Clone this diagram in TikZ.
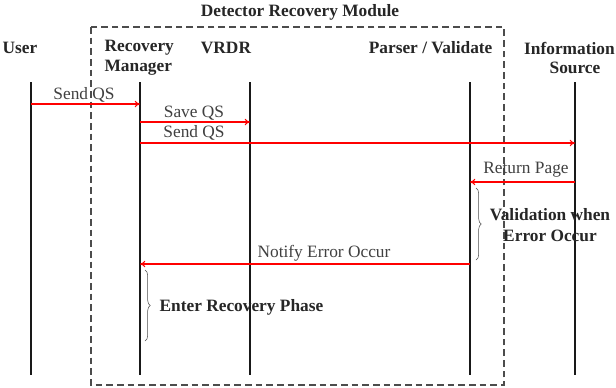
\documentclass[tikz,border=0pt]{standalone}
\usepackage{fontspec}
\setmainfont{Liberation Serif}
\usetikzlibrary{decorations.pathreplacing,arrows.meta}

\tikzset{
  actor/.style={font=\bfseries\fontsize{13}{16}\selectfont,text=black!85,inner sep=1pt},
  lifeline/.style={line width=1.6pt,black!90},
  msg/.style={red,line width=0.8pt,-{To[length=4pt,width=5pt]}},
  msglabel/.style={font=\fontsize{13}{15}\selectfont,text=black!75,inner sep=1pt},
  note/.style={font=\bfseries\fontsize{13}{16}\selectfont,text=black!85,align=center,inner sep=1pt},
  notebrace/.style={decorate,decoration={brace,amplitude=4pt},black!70,thin},
}

\begin{document}
\begin{tikzpicture}[x=0.75pt,y=-0.75pt]
  \useasboundingbox (0,0) rectangle (616,387);

  %% module frame
  \draw[black!70,dashed,line width=1.1pt,dash pattern=on 5pt off 3pt] (91,27) rectangle (504,385);
  \node (TITLE) at (300,12) [actor] {Detector Recovery Module};

  %% actors
  \node (USERL) at (20,48) [actor] {User};
  \node (RMLA) at (103,48) [actor,anchor=west] {Recovery};
  \node (RMLB) at (103,68) [actor,anchor=west] {Manager};
  \node (VRDRL) at (226,48) [actor] {VRDR};
  \node (PARL) at (494,48) [actor,anchor=east] {Parser / Validate};
  \node (INFLA) at (615,48) [actor,anchor=east,inner sep=0pt] {Information};
  \node (INFLB) at (575,68) [actor] {Source};

  %% lifelines
  \coordinate (U) at (31,82);   \coordinate (Ub) at (31,375);
  \coordinate (RM) at (140,82); \coordinate (RMb) at (140,375);
  \coordinate (VR) at (250,82); \coordinate (VRb) at (250,375);
  \coordinate (PV) at (470,82); \coordinate (PVb) at (470,375);
  \coordinate (IS) at (575,82); \coordinate (ISb) at (575,375);
  \foreach \a/\b in {U/Ub,RM/RMb,VR/VRb,PV/PVb,IS/ISb}
    \draw[lifeline] (\a) -- (\b);

  %% messages
  \draw[msg] (U |- 0,104) -- (RM |- 0,104);
  \node (M1) at (84,95) [msglabel] {Send QS};
  \draw[msg] (RM |- 0,122) -- (VR |- 0,122);
  \node (M2) at (194,113) [msglabel] {Save QS};
  \draw[msg] (RM |- 0,143) -- (IS |- 0,143);
  \node (M3) at (194,133) [msglabel] {Send QS};
  \draw[msg] (IS |- 0,182) -- (PV |- 0,182);
  \node (M4) at (526,170) [msglabel] {Return Page};
  \draw[msg] (PV |- 0,264) -- (RM |- 0,264);
  \node (M5) at (324,253) [msglabel] {Notify Error Occur};

  %% activity notes
  \draw[notebrace] (476,188) -- (476,260);
  \node (N1) at (550,225) [note] {Validation when\\Error Occur};
  \draw[notebrace] (145,270) -- (145,341);
  \node (N2) at (158,307) [note,anchor=west] {Enter Recovery Phase};
\end{tikzpicture}
\end{document}
